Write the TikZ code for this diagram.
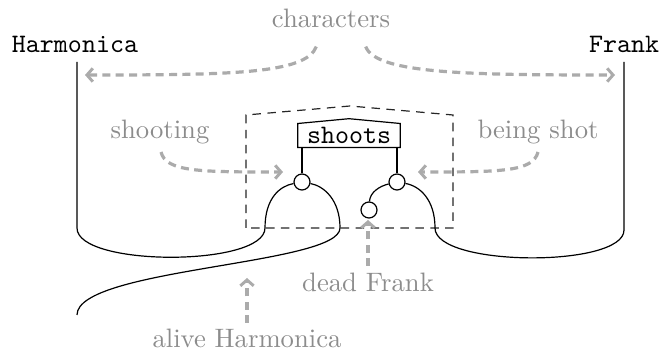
\documentclass[tikz,border=0pt]{standalone}
\usetikzlibrary{arrows.meta}
\begin{document}
\begin{tikzpicture}[x=0.375pt,y=-0.375pt,
  wire/.style={black,line width=0.45pt},
  lbl/.style={text=black!45,inner sep=1pt},
  tname/.style={font=\ttfamily,inner sep=1pt},
  ghost/.style={black!33,line width=1.2pt,dash pattern=on 3pt off 2pt,
    -{Straight Barb[length=2.2pt,width=5pt,line width=1.1pt]}},
  dot/.style={circle,draw,fill=white,inner sep=0pt,minimum size=6pt,line width=0.45pt},
  frame/.style={black!85,line width=0.45pt,dash pattern=on 3.2pt off 2.4pt}]
\useasboundingbox (0,0) rectangle (662,351);
% labels
\node[tname] (harm) at (75,44) {Harmonica};
\node[tname] (frank) at (624,44) {Frank};
\node[lbl] (chars) at (331,18) {characters};
\node[lbl] (shooting) at (160,132) {shooting};
\node[lbl] (beingshot) at (538,132) {being shot};
\node[lbl] (deadf) at (368,282) {dead Frank};
\node[lbl] (aliveh) at (247,338) {alive Harmonica};
% dashed frame
\coordinate (fbl) at (246,228);
\coordinate (ftl) at (246,115);
\coordinate (fpk) at (350,106);
\coordinate (ftr) at (453,115);
\coordinate (fbr) at (453,228);
\draw[frame] (fbl) -- (ftl) -- (fpk) -- (ftr) -- (fbr) -- cycle;
% shoots box
\node[minimum width=38pt,minimum height=8.6pt,inner sep=0pt,font=\ttfamily] (s) at (349,135.5) {shoots};
\draw[wire] (s.south west) -- (s.north west) -- ([yshift=1.8pt]s.north) -- (s.north east) -- (s.south east) -- cycle;
% circles
\node[dot] (c1) at (302,182) {};
\node[dot] (c2) at (397,182) {};
\node[dot] (c3) at (369,210) {};
\draw[wire] (c1 |- s.south) -- (c1);
\draw[wire] (c2 |- s.south) -- (c2);
% coordinates for wires
\coordinate (hTop) at (77,62);
\coordinate (hA) at (77,228);
\coordinate (aL) at (265,228);
\coordinate (aR) at (340,228);
\coordinate (hEnd) at (77,315);
\coordinate (fTop) at (624,62);
\coordinate (fA) at (624,230);
\coordinate (bR) at (435,228);
% Harmonica wire
\draw[wire] (hTop) -- (hA) .. controls (77,267) and (265,267) .. (aL)
  .. controls (265,198) and (280,186) .. (c1);
\draw[wire] (c1) .. controls (324,186) and (340,200) .. (aR)
  .. controls (340,265) and (77,268) .. (hEnd);
% Frank wire
\draw[wire] (fTop) -- (fA) .. controls (624,268) and (435,267) .. (bR)
  .. controls (435,200) and (420,186) .. (c2);
\draw[wire] (c2) .. controls (380,186) and (370,192) .. (c3);
% gray arrows
\coordinate (chL) at (85,75);
\coordinate (chR) at (615,75);
\coordinate (shT) at (283,172);
\coordinate (bsT) at (418,172);
\coordinate (dfT) at (368,220);
\coordinate (ahT) at (247,278);
\draw[ghost] ([xshift=-5.5pt,yshift=-6pt]chars.south) .. controls (306,74) and (230,75) .. (chL);
\draw[ghost] ([xshift=13pt,yshift=-6pt]chars.south) .. controls (376,74) and (470,75) .. (chR);
\draw[ghost] (161,152) .. controls (166,172) and (200,172) .. (shT);
\draw[ghost] (538,152) .. controls (533,172) and (500,172) .. (bsT);
\draw[ghost] (368,266) -- (dfT);
\draw[ghost] (247,323) -- (ahT);
\end{tikzpicture}
\end{document}
